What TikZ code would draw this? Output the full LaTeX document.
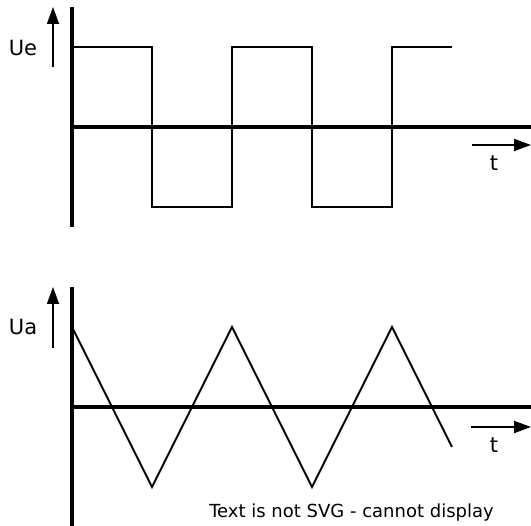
\documentclass[tikz,border=0pt]{standalone}
\usepackage{fontspec}
\setmainfont{DejaVu Sans}
\usetikzlibrary{arrows.meta}
\tikzset{
  axis/.style={line width=4.2pt},
  wave/.style={line width=2pt, line join=miter},
  dirarrow/.style={line width=1.8pt, -{Triangle[length=17pt,width=12pt]}},
  lbl/.style={inner sep=0pt, font=\fontsize{21}{25}\selectfont},
}
\begin{document}
\begin{tikzpicture}[x=1pt,y=-1pt]
\useasboundingbox (0,0) rectangle (531,526);
% ---- top graph
\coordinate (ty0) at (72,7);
\coordinate (ty1) at (72,227);
\coordinate (tx0) at (72,127);
\coordinate (tx1) at (531,127);
\draw[wave] (72,47) -- (152,47) -- (152,207) -- (232,207) -- (232,47) -- (312,47) -- (312,207) -- (392,207) -- (392,47) -- (452,47);
\draw[axis] (ty0) -- (ty1);
\draw[axis] (tx0) -- (tx1);
\coordinate (ua0) at (53,67);
\coordinate (ua1) at (53,7);
\draw[dirarrow] (ua0) -- (ua1);
\node[lbl] (ue) at (23,47.5) {Ue};
\coordinate (ta0) at (472,145);
\coordinate (ta1) at (531,145);
\draw[dirarrow] (ta0) -- (ta1);
\node[lbl] (t1) at (494,163) {t};
% ---- bottom graph
\coordinate (by0) at (72,287);
\coordinate (by1) at (72,526);
\coordinate (bx0) at (72,407);
\coordinate (bx1) at (531,407);
\draw[wave] (72,327) -- (152,487) -- (232,327) -- (312,487) -- (392,327) -- (452,447);
\draw[axis] (by0) -- (by1);
\draw[axis] (bx0) -- (bx1);
\coordinate (ub0) at (53,348);
\coordinate (ub1) at (53,287);
\draw[dirarrow] (ub0) -- (ub1);
\node[lbl] (ua) at (23,327) {Ua};
\coordinate (tb0) at (471,427);
\coordinate (tb1) at (531,427);
\draw[dirarrow] (tb0) -- (tb1);
\node[lbl] (t2) at (494,445) {t};
\node[inner sep=0pt, font=\fontsize{18}{21}\selectfont] (msg) at (351.5,513) {Text is not SVG - cannot display};
\end{tikzpicture}
\end{document}
